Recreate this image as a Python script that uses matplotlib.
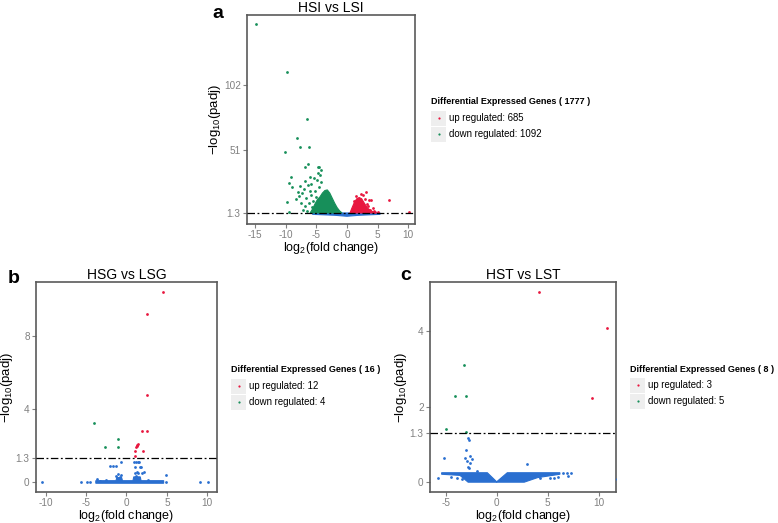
import matplotlib
matplotlib.use('Agg')
import matplotlib.pyplot as plt
from matplotlib.patches import Rectangle

plt.rcParams['font.family'] = ['Liberation Sans', 'DejaVu Sans']
plt.rcParams['mathtext.default'] = 'regular'
plt.rcParams['axes.unicode_minus'] = False

W, H = 778, 523

UP = '#e8173f'
DOWN = '#178f5a'
NS = '#2a6fd0'
GREY = '#808080'

THRESH = 1.3

# ---- panel a: HSI vs LSI ----
a_title = 'HSI vs LSI'
a_counts = (685, 1092)
a_xticks = [-15, -10, -5, 0, 5, 10]
a_yticks = [1.3, 51, 102]
a_up_x = [3.1, 3.6, 3.9, 6.8, 10.05, 2.6, 2.3, 1.5, 3.3, 4.2, 4.4, 3.8, 2.9, 5.0, 1.2, 4.6, 3.5]
a_up_y = [17.5, 11.5, 11.5, 11.2, 1.8, 15.5, 16.0, 14.5, 8.0, 5.5, 3.0, 4.0, 12.5, 2.2, 11.0, 2.0, 6.5]
a_down_x = [-14.9, -9.7, -6.5, -8.1, -7.65, -6.2, -10.1, -6.4, -6.8, -4.8, -4.5, -4.2,
            -4.8, -4.4, -9.2, -9.5, -6.9, -6.4, -7.6, -5.8, -8.0, -7.3, -7.8, -6.6,
            -5.9, -9.8, -9.4, -7.5, -6.9, -6.2, -5.7, -7.2, -6.5, -5.2, -4.6, -4.9,
            -5.5, -8.3, -8.9, -6.0, -5.3, -4.3, -7.0, -6.1, -5.0]
a_down_y = [150.3, 112.7, 75.2, 60.2, 53.7, 53.7, 49.2, 40.2, 37.3, 37.9, 37.3, 35.2,
            33.1, 31.5, 29.3, 25.2, 26.5, 23.4, 22.5, 24.0, 17.5, 17.0, 14.5, 13.5,
            15.5, 10.0, 1.8, 9.0, 6.5, 9.5, 6.0, 4.0, 3.0, 19.0, 22.0, 27.0,
            11.0, 12.0, 22.0, 30.0, 29.0, 26.0, 20.0, 18.5, 14.0]
# dense cores of the volcano
a_down_core_x = [-6.0, -5.6, -5.2, -4.8, -4.4, -4.0, -3.6, -3.2, -2.8, -2.4, -2.0, -1.6, -1.2, -0.8]
a_down_core_y = [1.3, 4.5, 8.5, 12.0, 14.0, 17.0, 19.0, 19.5, 17.0, 13.0, 9.0, 5.5, 3.0, 1.3]
a_up_core_x = [0.5, 0.8, 1.2, 1.6, 2.0, 2.4, 2.9, 3.4, 4.0, 4.7]
a_up_core_y = [1.3, 5.0, 9.5, 12.5, 13.5, 12.5, 8.5, 5.0, 2.8, 1.3]
a_ns_core_x = [-5.6, 5.4, 5.4, 2.0, 0.0, -2.0, -5.6]
a_ns_core_y = [1.3, 1.3, 0.2, -0.5, -1.3, -0.5, 0.2]

# ---- panel b: HSG vs LSG ----
b_title = 'HSG vs LSG'
b_counts = (12, 4)
b_xticks = [-10, -5, 0, 5, 10]
b_yticks = [0, 1.3, 4, 8]
b_up_x = [4.48, 2.51, 2.59, 1.89, 2.51, 1.44, 1.30, 1.22, 1.11, 2.01, 1.11, 1.35]
b_up_y = [10.4, 9.18, 4.76, 2.78, 2.78, 2.07, 1.98, 1.90, 1.67, 1.67, 1.44, 2.02]
b_down_x = [-4.07, -1.11, -2.64, -1.11]
b_down_y = [3.24, 2.35, 1.89, 1.89]
b_ns_x = [-10.4, -5.6, -4.86, -4.5, 9.13, 10.04, 4.94, 4.94, -2.06, -1.65, -1.24, -0.74,
          1.23, 1.56, 1.06, 1.85, 1.4, 1.98, -3.7, -2.5, 2.14, -1.0, -0.83, -0.7,
          1.06, 1.31, 0.98, 1.48, 1.73, -1.3, 1.2, 2.6, -3.3]
b_ns_y = [0.0, 0.0, 0.0, 0.0, 0.0, 0.0, 0.36, 0.0, 0.89, 0.89, 0.89, 1.07,
          1.07, 1.07, 0.84, 0.80, 0.49, 0.50, 0.16, 0.13, 0.56, 0.44, 0.26, 0.38,
          0.49, 0.53, 1.07, 1.07, 0.82, 0.3, 0.35, 0.1, 0.08]
b_ns_core_x = [-3.8, -1.3, -1.2, -0.6, -0.5, 0.8, 0.9, 1.7, 1.8, 4.6, 4.6, -3.8]
b_ns_core_y = [0.07, 0.07, 0.24, 0.24, 0.07, 0.07, 0.28, 0.28, 0.07, 0.07, -0.07, -0.07]

# ---- panel c: HST vs LST ----
c_title = 'HST vs LST'
c_counts = (3, 5)
c_xticks = [-5, 0, 5, 10]
c_yticks = [0, 1.3, 2, 4]
c_up_x = [4.18, 10.81, 9.34]
c_up_y = [5.03, 4.09, 2.22]
c_down_x = [-3.21, -4.06, -3.01, -4.97, -3.04]
c_down_y = [3.10, 2.29, 2.29, 1.42, 1.33]
c_ns_x = [-2.81, -2.68, -3.01, -5.17, -3.14, -2.59, -2.45, -2.61, -2.78, -1.96, 2.94,
          -5.75, 5.2, 5.62, 7.25, 6.5, 6.9, -2.75, -2.9, 5.98, 7.0, 11.8, 3.6, 4.2,
          -3.9, -4.5, -3.4]
c_ns_y = [1.18, 1.13, 0.84, 0.64, 0.64, 0.68, 0.61, 0.51, 0.39, 0.30, 0.47,
          0.11, 0.11, 0.11, 0.24, 0.24, 0.24, 0.38, 0.56, 0.13, 0.16, 0.08, 0.15, 0.12,
          0.12, 0.15, 0.08]
c_ns_core_x = [-5.4, -0.92, 0.0, 1.04, 6.2, 6.2, 4.0, 2.7, -2.8, -3.6, -5.4]
c_ns_core_y = [0.25, 0.25, 0.01, 0.25, 0.25, 0.21, 0.12, 0.0, 0.0, 0.18, 0.21]


def fx(px):
    return px / W


def fy(py):
    return 1 - py / H


def make_axes(fig, left, top, right, bottom):
    return fig.add_axes([fx(left), fy(bottom), (right - left) / W, (bottom - top) / H])


def draw_panel(ax, title, xticks, yticks, xlim, ylim,
               up_x, up_y, down_x, down_y, ns_x, ns_y, cores):
    for cx, cy, col in cores:
        ax.fill(cx, cy, color=col, lw=0.8, ec=col, zorder=2)
    ax.scatter(ns_x, ns_y, s=4, c=NS, lw=0, zorder=3)
    ax.scatter(down_x, down_y, s=4, c=DOWN, lw=0, zorder=3)
    ax.scatter(up_x, up_y, s=4, c=UP, lw=0, zorder=3)
    ax.axhline(THRESH, color='black', lw=0.9, ls='-.', dashes=(6, 2, 1.5, 2), zorder=4)
    ax.set_xlim(*xlim)
    ax.set_ylim(*ylim)
    ax.set_xticks(xticks)
    ax.set_yticks(yticks)
    ax.set_yticklabels([('%g' % t) for t in yticks])
    ax.tick_params(colors=GREY, labelsize=7.2, length=3, width=0.8, pad=1.5)
    for sp in ax.spines.values():
        sp.set_color('#5a5a5a')
        sp.set_linewidth(1.2)
    ax.set_title(title, fontsize=10, pad=1.5)
    ax.set_xlabel(r'log$_2$(fold change)', fontsize=9, labelpad=-0.5)
    ax.set_ylabel(r'$-$log$_{10}$(padj)', fontsize=9.5, labelpad=0.5)


def draw_legend(fig, x, y_title, y_up, y_down, counts):
    fig.text(fx(x), fy(y_title), 'Differential Expressed Genes ( %d )' % sum(counts),
             fontsize=6.5, fontweight='bold', va='center', ha='left')
    for yy, col, lab in ((y_up, UP, 'up regulated: %d' % counts[0]),
                         (y_down, DOWN, 'down regulated: %d' % counts[1])):
        fig.patches.append(Rectangle((fx(x), fy(yy + 7.5)), 15 / W, 15 / H,
                                     transform=fig.transFigure, fc='#eeeeee', ec='none'))
        fig.lines.append(plt.Line2D([fx(x + 7.5)], [fy(yy)], transform=fig.transFigure,
                                    marker='o', ms=1.6, color=col, mec='none', ls='none'))
        fig.text(fx(x + 18), fy(yy), lab, fontsize=6.9, va='center', ha='left')


fig = plt.figure(figsize=(W / 100, H / 100), dpi=100)

ax_a = make_axes(fig, 247, 15, 415, 224)
draw_panel(ax_a, a_title, a_xticks, a_yticks, (-16.3, 11.1), (-7.4, 157.5),
           a_up_x, a_up_y, a_down_x, a_down_y, [], [],
           [(a_ns_core_x, a_ns_core_y, NS), (a_down_core_x, a_down_core_y, DOWN),
            (a_up_core_x, a_up_core_y, UP)])
draw_legend(fig, 431, 101, 118, 134, a_counts)

ax_b = make_axes(fig, 36, 282, 217, 492)
draw_panel(ax_b, b_title, b_xticks, b_yticks, (-11.2, 11.2), (-0.55, 10.96),
           b_up_x, b_up_y, b_down_x, b_down_y, b_ns_x, b_ns_y,
           [(b_ns_core_x, b_ns_core_y, NS)])
draw_legend(fig, 231, 369, 386, 402, b_counts)

ax_c = make_axes(fig, 430, 282, 616, 492)
draw_panel(ax_c, c_title, c_xticks, c_yticks, (-6.54, 11.7), (-0.26, 5.3),
           c_up_x, c_up_y, c_down_x, c_down_y, c_ns_x, c_ns_y,
           [(c_ns_core_x, c_ns_core_y, NS)])
draw_legend(fig, 630, 369, 385, 401, c_counts)

fig.text(fx(212), fy(18), 'a', fontsize=14, fontweight='bold', va='baseline')
fig.text(fx(8), fy(283), 'b', fontsize=14, fontweight='bold', va='baseline')
fig.text(fx(400), fy(280), 'c', fontsize=14, fontweight='bold', va='baseline')

fig.savefig('out.png', dpi=100)
